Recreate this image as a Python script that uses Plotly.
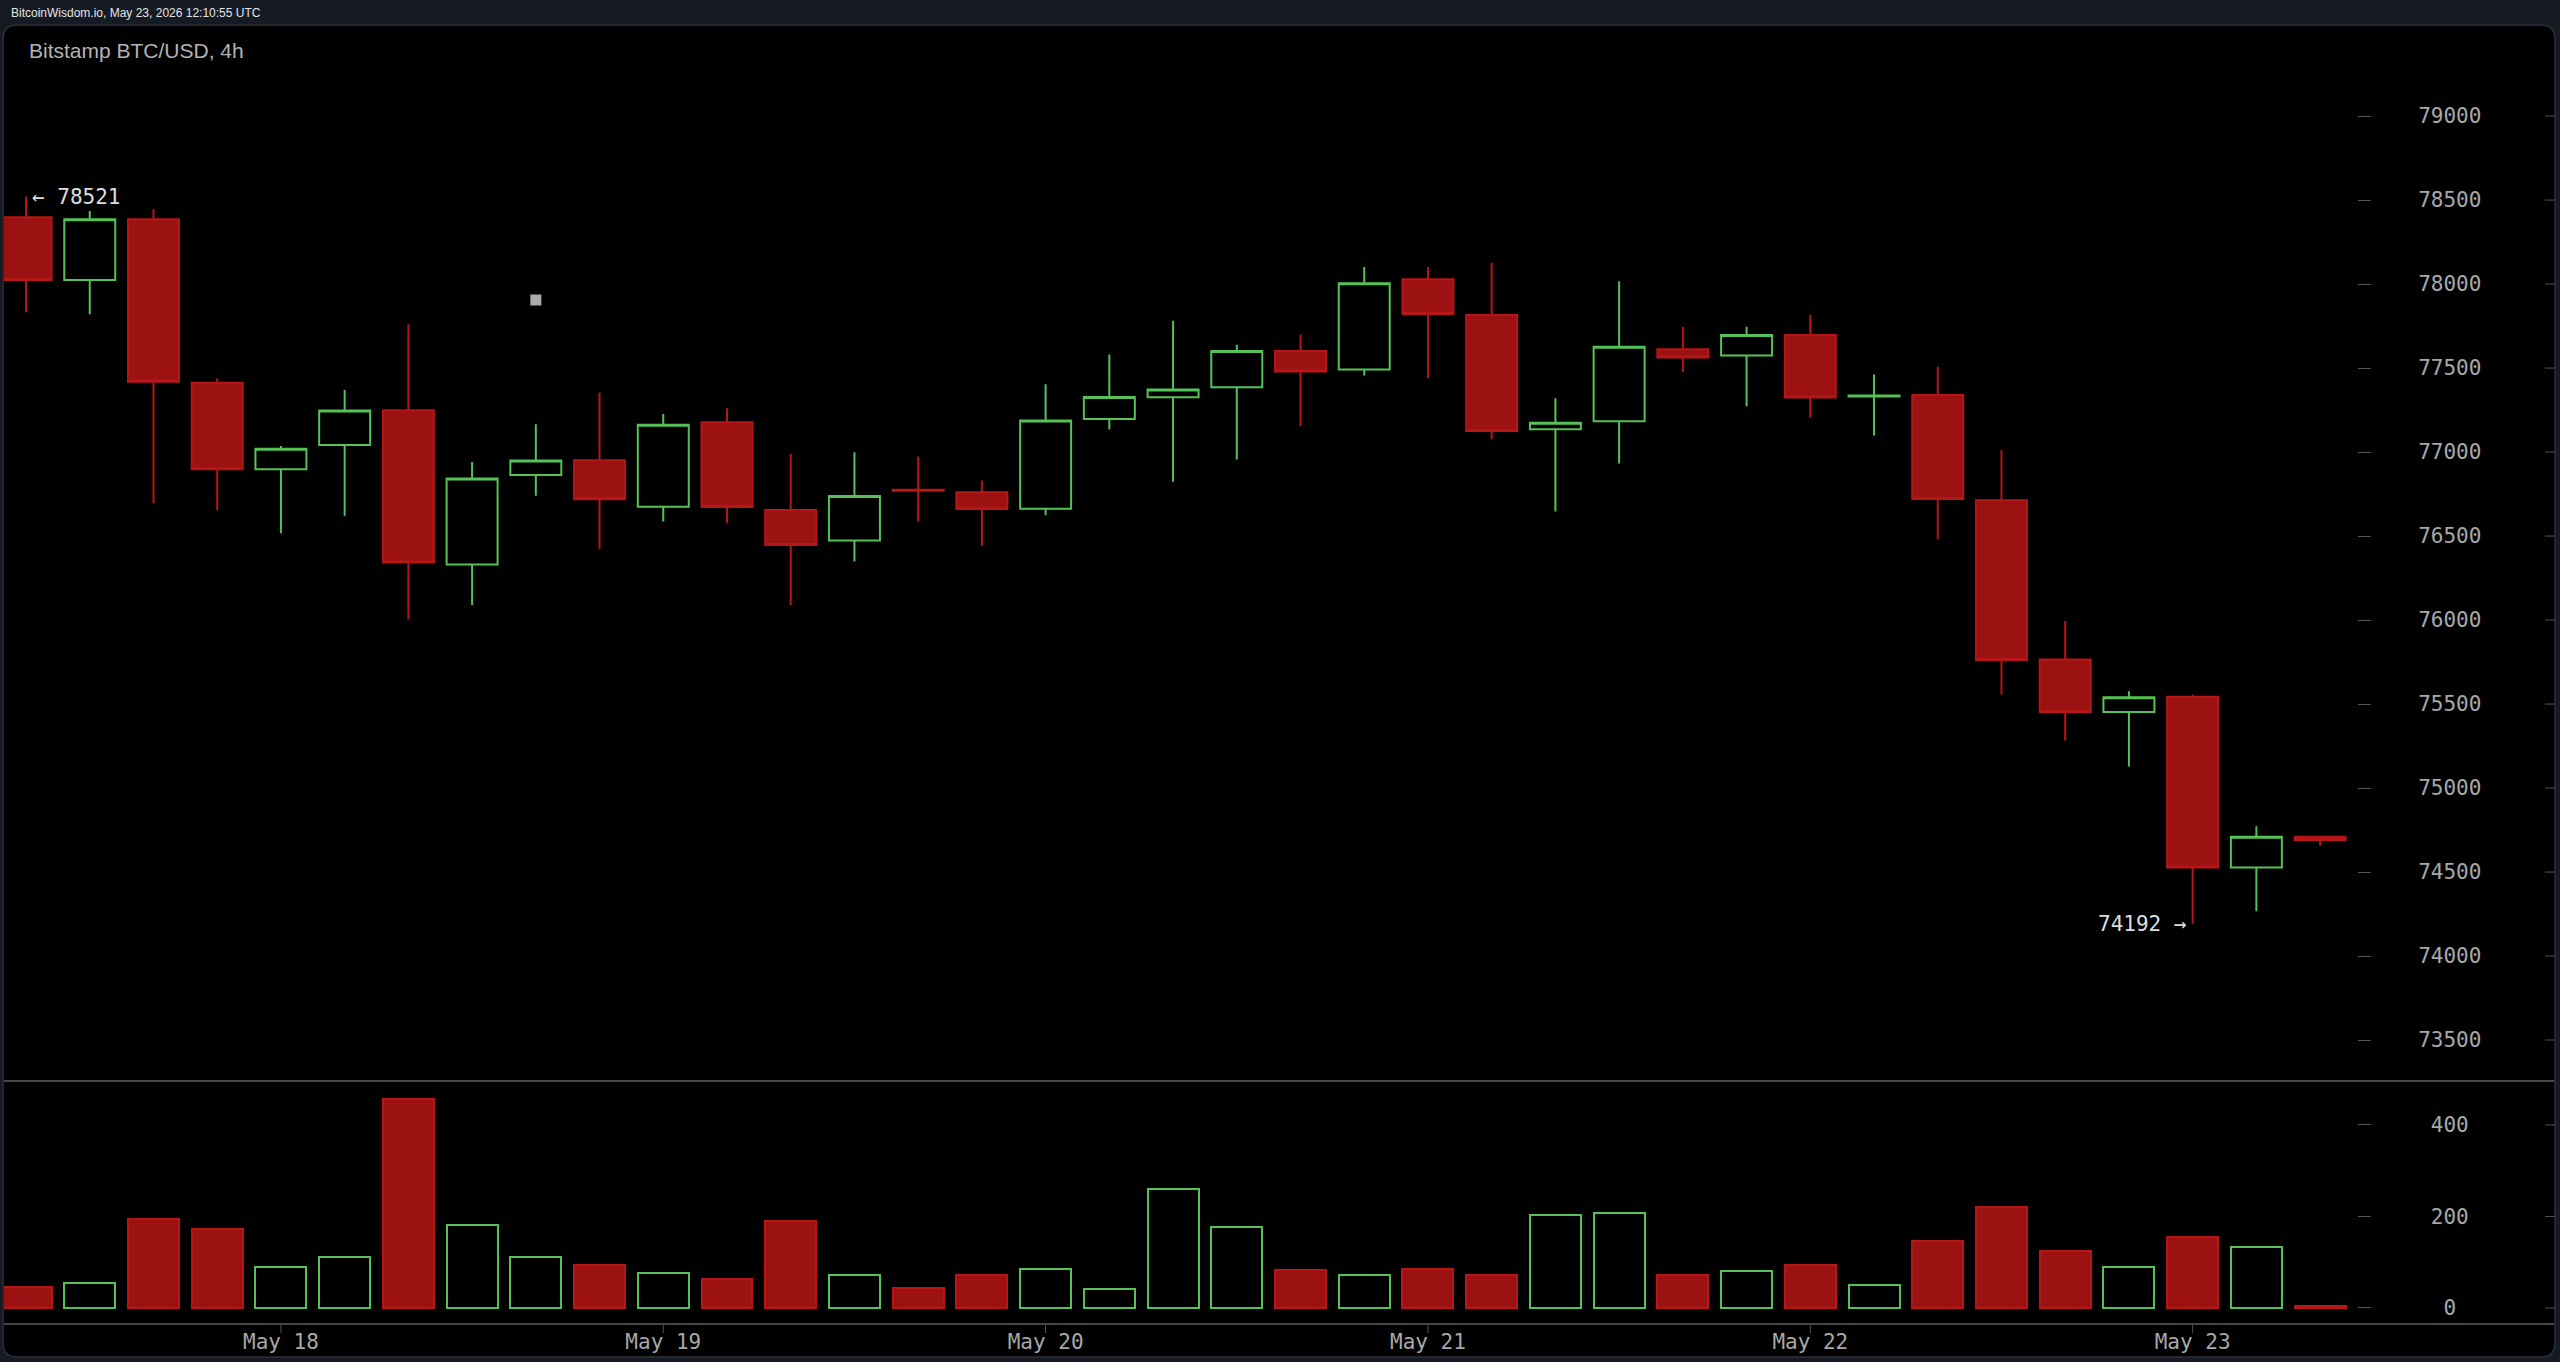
import plotly.graph_objects as go

# ---------------- data ----------------
times = [
    "2026-05-17 08:00", "2026-05-17 12:00", "2026-05-17 16:00", "2026-05-17 20:00",
    "2026-05-18 00:00", "2026-05-18 04:00", "2026-05-18 08:00", "2026-05-18 12:00", "2026-05-18 16:00", "2026-05-18 20:00",
    "2026-05-19 00:00", "2026-05-19 04:00", "2026-05-19 08:00", "2026-05-19 12:00", "2026-05-19 16:00", "2026-05-19 20:00",
    "2026-05-20 00:00", "2026-05-20 04:00", "2026-05-20 08:00", "2026-05-20 12:00", "2026-05-20 16:00", "2026-05-20 20:00",
    "2026-05-21 00:00", "2026-05-21 04:00", "2026-05-21 08:00", "2026-05-21 12:00", "2026-05-21 16:00", "2026-05-21 20:00",
    "2026-05-22 00:00", "2026-05-22 04:00", "2026-05-22 08:00", "2026-05-22 12:00", "2026-05-22 16:00", "2026-05-22 20:00",
    "2026-05-23 00:00", "2026-05-23 04:00", "2026-05-23 08:00",
]
opens = [78398, 78024, 78385, 77413, 76897, 77042, 77249, 76331, 76864, 76951,
         76675, 77177, 76655, 76474, 76775, 76760, 76663, 77196, 77326, 77385,
         77601, 77491, 78028, 77815, 77135, 77183, 77612, 77574, 77697, 77330,
         77339, 76713, 75765, 75453, 75544, 74527, 74710]
highs = [78521, 78435, 78445, 77438, 77036, 77369, 77760, 76940, 77165, 77355,
         77226, 77260, 76988, 76998, 76974, 76831, 77403, 77580, 77782, 77639,
         77700, 78101, 78101, 78127, 77320, 78017, 77746, 77746, 77817, 77462,
         77508, 77011, 75994, 75576, 75557, 74773, 74712]
lows = [77832, 77820, 76695, 76655, 76516, 76621, 76004, 76090, 76740, 76423,
        76586, 76576, 76090, 76348, 76586, 76444, 76624, 77134, 76823, 76955,
        77155, 77455, 77440, 77077, 76646, 76932, 77476, 77273, 77205, 77098,
        76480, 75557, 75283, 75128, 74192, 74267, 74658]
closes = [78024, 78385, 77419, 76897, 77020, 77247, 76342, 76843, 76949, 76719,
          77163, 76673, 76446, 76738, 76770, 76661, 77187, 77327, 77373, 77601,
          77479, 78004, 77822, 77125, 77175, 77626, 77563, 77697, 77325, 77336,
          76721, 75762, 75453, 75541, 74527, 74710, 74690]
volumes = [46, 55, 194, 173, 90, 111, 456, 181, 111, 95,
           76, 64, 190, 72, 43, 73, 85, 41, 259, 176,
           82, 72, 86, 73, 203, 207, 73, 81, 95, 50,
           147, 221, 125, 90, 156, 133, 4]

price_ticks = [73500, 74000, 74500, 75000, 75500, 76000, 76500, 77000, 77500, 78000, 78500, 79000]
volume_ticks = [0, 200, 400]
date_ticks = ["2026-05-18", "2026-05-19", "2026-05-20", "2026-05-21", "2026-05-22", "2026-05-23"]
date_tick_labels = ["May 18", "May 19", "May 20", "May 21", "May 22", "May 23"]

cursor_time = ["2026-05-18 16:00"]
cursor_price = [77905]

header_text = "BitcoinWisdom.io, May 23, 2026 12:10:55 UTC"
title_text = "Bitstamp BTC/USD, 4h"

# ---------------- styling / geometry ----------------
W, H = 2560, 1362


def px(x):
    return x / W


def py(y):
    return 1 - y / H


NAVY = "#161a23"
RED_FILL = "#9c1111"
RED_LINE = "#b71616"
GREEN = "#56c156"
AXIS_GRAY = "#555555"
LABEL_GRAY = "#a8a8a8"
MONO = "DejaVu Sans Mono, monospace"
SANS = "Liberation Sans, Arial, sans-serif"

X_RANGE = ["2026-05-17 06:37", "2026-05-23 10:19"]
X_DOMAIN = [px(4), px(2357)]

is_up = [c >= o for o, c in zip(opens, closes)]

fig = go.Figure()

fig.add_trace(go.Candlestick(
    x=times, open=opens, high=highs, low=lows, close=closes,
    increasing=dict(line=dict(color=GREEN, width=2), fillcolor="#000000"),
    decreasing=dict(line=dict(color=RED_LINE, width=2), fillcolor=RED_FILL),
    whiskerwidth=0, xaxis="x", yaxis="y", showlegend=False, hoverinfo="skip",
))

fig.add_trace(go.Bar(
    x=times, y=volumes, width=0.8 * 4 * 3600 * 1000,
    marker=dict(color=["#000000" if u else RED_FILL for u in is_up],
                line=dict(color=[GREEN if u else RED_LINE for u in is_up], width=2)),
    xaxis="x2", yaxis="y2", showlegend=False, hoverinfo="skip",
))

fig.add_trace(go.Scatter(
    x=cursor_time, y=cursor_price, mode="markers",
    marker=dict(symbol="square", size=11, color="#a9a9a9", line=dict(width=0)),
    xaxis="x", yaxis="y", showlegend=False, hoverinfo="skip",
))


def pad5(s):
    n = 5 - len(s)
    left = n // 2
    return "\u00a0" * left + s + "\u00a0" * (n - left)


axis_common = dict(showgrid=False, zeroline=False, showline=False)

fig.update_layout(
    width=W, height=H, margin=dict(l=0, r=0, t=0, b=0),
    paper_bgcolor=NAVY, plot_bgcolor="rgba(0,0,0,0)",
    showlegend=False, boxgap=0.2, boxgroupgap=0, bargap=0,
    xaxis=dict(domain=X_DOMAIN, range=X_RANGE, type="date", anchor="y",
               showticklabels=False, ticks="", rangeslider=dict(visible=False),
               **axis_common),
    yaxis=dict(domain=[py(1081), py(25)], range=[73256, 79542], anchor="x",
               side="right", tickmode="array", tickvals=price_ticks,
               ticktext=[pad5(str(v)) for v in price_ticks],
               ticks="outside", ticklen=13, tickwidth=1, tickcolor=AXIS_GRAY,
               tickfont=dict(family=MONO, size=21, color=LABEL_GRAY),
               ticklabelstandoff=43, **axis_common),
    xaxis2=dict(domain=X_DOMAIN, range=X_RANGE, type="date", anchor="y2",
                matches="x", tickmode="array", tickvals=date_ticks,
                ticktext=date_tick_labels, ticks="", ticklabelstandoff=3,
                tickfont=dict(family=MONO, size=21, color=LABEL_GRAY),
                **axis_common),
    yaxis2=dict(domain=[py(1324), py(1081)], range=[-35, 496], anchor="x2",
                side="right", tickmode="array", tickvals=volume_ticks,
                ticktext=[pad5(str(v)) for v in volume_ticks],
                ticks="outside", ticklen=13, tickwidth=1, tickcolor=AXIS_GRAY,
                tickfont=dict(family=MONO, size=21, color=LABEL_GRAY),
                ticklabelstandoff=43, **axis_common),
)

# ---------------- panel & separators ----------------
x0, x1 = px(3), px(2555)
yt, yb = py(25), py(1357)
rx, ry = 14 / W, 14 / H
panel_path = (
    f"M {x0+rx},{yt} L {x1-rx},{yt} Q {x1},{yt} {x1},{yt-ry} "
    f"L {x1},{yb+ry} Q {x1},{yb} {x1-rx},{yb} "
    f"L {x0+rx},{yb} Q {x0},{yb} {x0},{yb+ry} "
    f"L {x0},{yt-ry} Q {x0},{yt} {x0+rx},{yt} Z"
)
shapes = [dict(type="path", path=panel_path, xref="paper", yref="paper",
               fillcolor="#000000", line=dict(color="#2c3039", width=1.5), layer="below")]
for ysep in (1081, 1324):
    shapes.append(dict(type="line", xref="paper", yref="paper",
                       x0=px(4), x1=px(2554), y0=py(ysep), y1=py(ysep),
                       line=dict(color="#474747", width=2)))
for v in price_ticks:
    shapes.append(dict(type="line", xref="paper", yref="y", x0=px(2545), x1=px(2555),
                       y0=v, y1=v, line=dict(color=AXIS_GRAY, width=1)))
for v in volume_ticks:
    shapes.append(dict(type="line", xref="paper", yref="y2", x0=px(2545), x1=px(2555),
                       y0=v, y1=v, line=dict(color=AXIS_GRAY, width=1)))
for d in date_ticks:
    shapes.append(dict(type="line", xref="x2", yref="paper", x0=d, x1=d,
                       y0=py(1325), y1=py(1333), line=dict(color=AXIS_GRAY, width=1)))
fig.update_layout(shapes=shapes)

# ---------------- texts ----------------
i_hi = highs.index(max(highs))
i_lo = lows.index(min(lows))
annotations = [
    dict(text=header_text, xref="paper", yref="paper", x=px(9), y=py(13),
         xanchor="left", yanchor="middle", showarrow=False,
         font=dict(family=SANS, size=12, color="#e4e4e4")),
    dict(text=title_text, xref="paper", yref="paper", x=px(27), y=py(51),
         xanchor="left", yanchor="middle", showarrow=False,
         font=dict(family=SANS, size=21, color="#b3b3b3")),
    dict(text=f"\u2190 {max(highs)}", xref="x", yref="y", x=times[i_hi], y=max(highs),
         xanchor="left", yanchor="middle", xshift=4, showarrow=False,
         font=dict(family=MONO, size=21, color="#dddddd")),
    dict(text=f"{min(lows)} \u2192", xref="x", yref="y", x=times[i_lo], y=min(lows),
         xanchor="right", yanchor="middle", xshift=-4, showarrow=False,
         font=dict(family=MONO, size=21, color="#dddddd")),
]
fig.update_layout(annotations=annotations)

fig.write_html(
    "out.html",
    config={"displayModeBar": False},
    post_script="document.body.style.margin='0';document.body.style.overflow='hidden';",
)
